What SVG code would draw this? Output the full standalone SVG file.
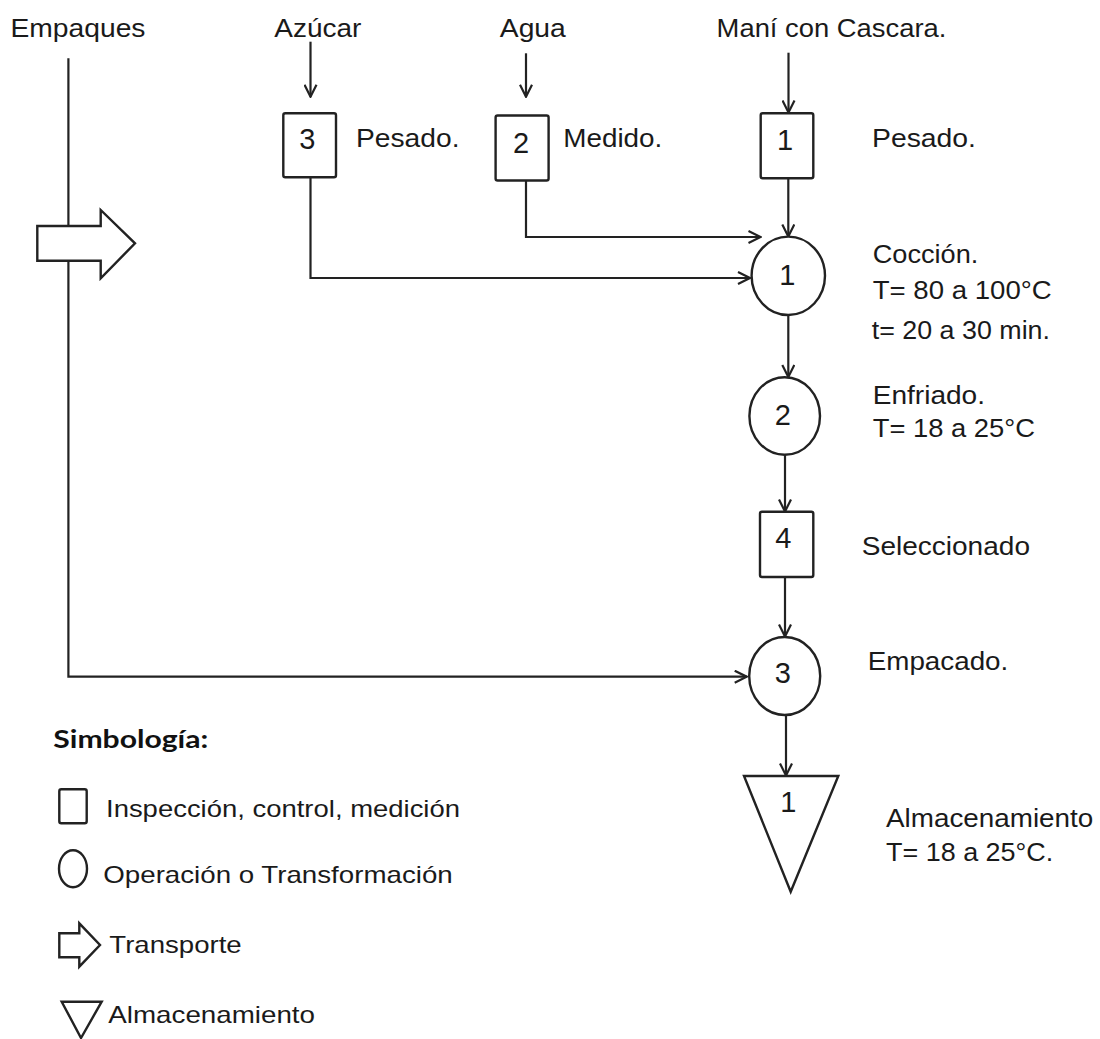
<svg xmlns="http://www.w3.org/2000/svg" width="1100" height="1039" viewBox="0 0 1100 1039">
<defs>
<marker id="arr" viewBox="0 0 14 14" refX="13" refY="7" markerWidth="14" markerHeight="14" markerUnits="userSpaceOnUse" orient="auto">
<path d="M1,1 L13,7 L1,13" fill="none" stroke="#222" stroke-width="2.2"/>
</marker>
</defs>
<style>
.ln{fill:none;stroke:#222;stroke-width:2.2}
.sh{fill:#fff;stroke:#222;stroke-width:2.4}
.t{font-family:"Liberation Sans",Arial,sans-serif;font-size:25px;fill:#1a1a1a}
.n{font-family:"Liberation Sans",Arial,sans-serif;font-size:29px;fill:#1a1a1a;text-anchor:middle}
.lg{font-family:"Liberation Sans",Arial,sans-serif;font-size:24px;fill:#1a1a1a}
.hd{font-family:Lato,"Open Sans",sans-serif;font-weight:bold;font-size:24px;fill:#111}
</style>
<rect width="1100" height="1039" fill="#fff"/>

<g id="connectors">
<path class="ln" d="M68.4,58.3 V676.7 H746.7" marker-end="url(#arr)"/>
<path class="ln" d="M310.5,41.7 V96.7" marker-end="url(#arr)"/>
<path class="ln" d="M526,53.3 V96.7" marker-end="url(#arr)"/>
<path class="ln" d="M788.5,52.7 V112.5" marker-end="url(#arr)"/>
<path class="ln" d="M310.5,177.3 V278 H750" marker-end="url(#arr)"/>
<path class="ln" d="M526,180.5 V237 H760.5" marker-end="url(#arr)"/>
<path class="ln" d="M788.3,178.3 V236.5" marker-end="url(#arr)"/>
<path class="ln" d="M788.3,315 V377" marker-end="url(#arr)"/>
<path class="ln" d="M785,455 V511.5" marker-end="url(#arr)"/>
<path class="ln" d="M785,577 V636.5" marker-end="url(#arr)"/>
<path class="ln" d="M786,715 V775.5" marker-end="url(#arr)"/>
</g>

<g id="transport">
<polygon class="sh" points="37.3,226 100.7,226 100.7,210 135,243.3 100.7,278.3 100.7,260.7 37.3,260.7"/>
</g>

<g id="labels-top">
<text class="t" x="10.5" y="36.7" textLength="135" lengthAdjust="spacingAndGlyphs">Empaques</text>
<text class="t" x="274.3" y="36.7" textLength="87" lengthAdjust="spacingAndGlyphs">Azúcar</text>
<text class="t" x="499.8" y="36.7" textLength="66" lengthAdjust="spacingAndGlyphs">Agua</text>
<text class="t" x="716.6" y="36.7" textLength="229.8" lengthAdjust="spacingAndGlyphs">Maní con Cascara.</text>
</g>

<g id="box3">
<rect class="sh" x="283.3" y="113.3" width="52.7" height="64" rx="2"/>
<text class="n" x="307.3" y="149.3">3</text>
<text class="t" x="356" y="147.3" textLength="103.5" lengthAdjust="spacingAndGlyphs">Pesado.</text>
</g>

<g id="box2">
<rect class="sh" x="495.6" y="115.5" width="53" height="65" rx="2"/>
<text class="n" x="521" y="153">2</text>
<text class="t" x="563.3" y="147" textLength="99" lengthAdjust="spacingAndGlyphs">Medido.</text>
</g>

<g id="box1">
<rect class="sh" x="760.7" y="113.3" width="52.6" height="65" rx="2"/>
<text class="n" x="785" y="150">1</text>
<text class="t" x="872" y="147" textLength="104" lengthAdjust="spacingAndGlyphs">Pesado.</text>
</g>

<g id="op1">
<ellipse class="sh" cx="788.3" cy="275.8" rx="36.7" ry="39.2"/>
<text class="n" x="787.3" y="285">1</text>
<text class="t" x="872.7" y="262.7" textLength="105.6" lengthAdjust="spacingAndGlyphs">Cocción.</text>
<text class="t" x="872.7" y="299.3" textLength="179" lengthAdjust="spacingAndGlyphs">T= 80 a 100°C</text>
<text class="t" x="871.7" y="339" textLength="178.3" lengthAdjust="spacingAndGlyphs">t= 20 a 30 min.</text>
</g>

<g id="op2">
<ellipse class="sh" cx="784.7" cy="416" rx="35.3" ry="38.8"/>
<text class="n" x="782.7" y="425">2</text>
<text class="t" x="872.7" y="404" textLength="112.3" lengthAdjust="spacingAndGlyphs">Enfriado.</text>
<text class="t" x="872.7" y="437.3" textLength="162.3" lengthAdjust="spacingAndGlyphs">T= 18 a 25°C</text>
</g>

<g id="box4">
<rect class="sh" x="760" y="511.7" width="53.3" height="65.3" rx="2"/>
<text class="n" x="783.3" y="548.3">4</text>
<text class="t" x="861.7" y="555" textLength="168.3" lengthAdjust="spacingAndGlyphs">Seleccionado</text>
</g>

<g id="op3">
<ellipse class="sh" cx="784.7" cy="676" rx="35.5" ry="39"/>
<text class="n" x="782.7" y="683.3">3</text>
<text class="t" x="867.7" y="670" textLength="140.6" lengthAdjust="spacingAndGlyphs">Empacado.</text>
</g>

<g id="store1">
<polygon class="sh" points="744,776 838.3,776 790.7,891.7"/>
<text class="n" x="788.3" y="811.7">1</text>
<text class="t" x="886" y="826.7" textLength="207.3" lengthAdjust="spacingAndGlyphs">Almacenamiento</text>
<text class="t" x="886" y="860.7" textLength="167.3" lengthAdjust="spacingAndGlyphs">T= 18 a 25°C.</text>
</g>

<g id="legend">
<text class="hd" x="53.3" y="748.3" textLength="155" lengthAdjust="spacingAndGlyphs">Simbología:</text>
<rect class="sh" x="59.3" y="789.3" width="27.4" height="34" rx="2"/>
<text class="lg" x="106" y="817.3" textLength="354" lengthAdjust="spacingAndGlyphs">Inspección, control, medición</text>
<ellipse class="sh" cx="73" cy="868.7" rx="14" ry="18.5"/>
<text class="lg" x="103.3" y="883.3" textLength="349.4" lengthAdjust="spacingAndGlyphs">Operación o Transformación</text>
<polygon class="sh" points="59.3,933.3 79.3,933.3 79.3,923.3 100,945 79.3,966.7 79.3,957.3 59.3,957.3"/>
<text class="lg" x="109.3" y="953.3" textLength="132.4" lengthAdjust="spacingAndGlyphs">Transporte</text>
<polygon class="sh" points="61.7,1001.7 101.7,1001.7 81,1038"/>
<text class="lg" x="108.3" y="1022.7" textLength="206.7" lengthAdjust="spacingAndGlyphs">Almacenamiento</text>
</g>
</svg>
